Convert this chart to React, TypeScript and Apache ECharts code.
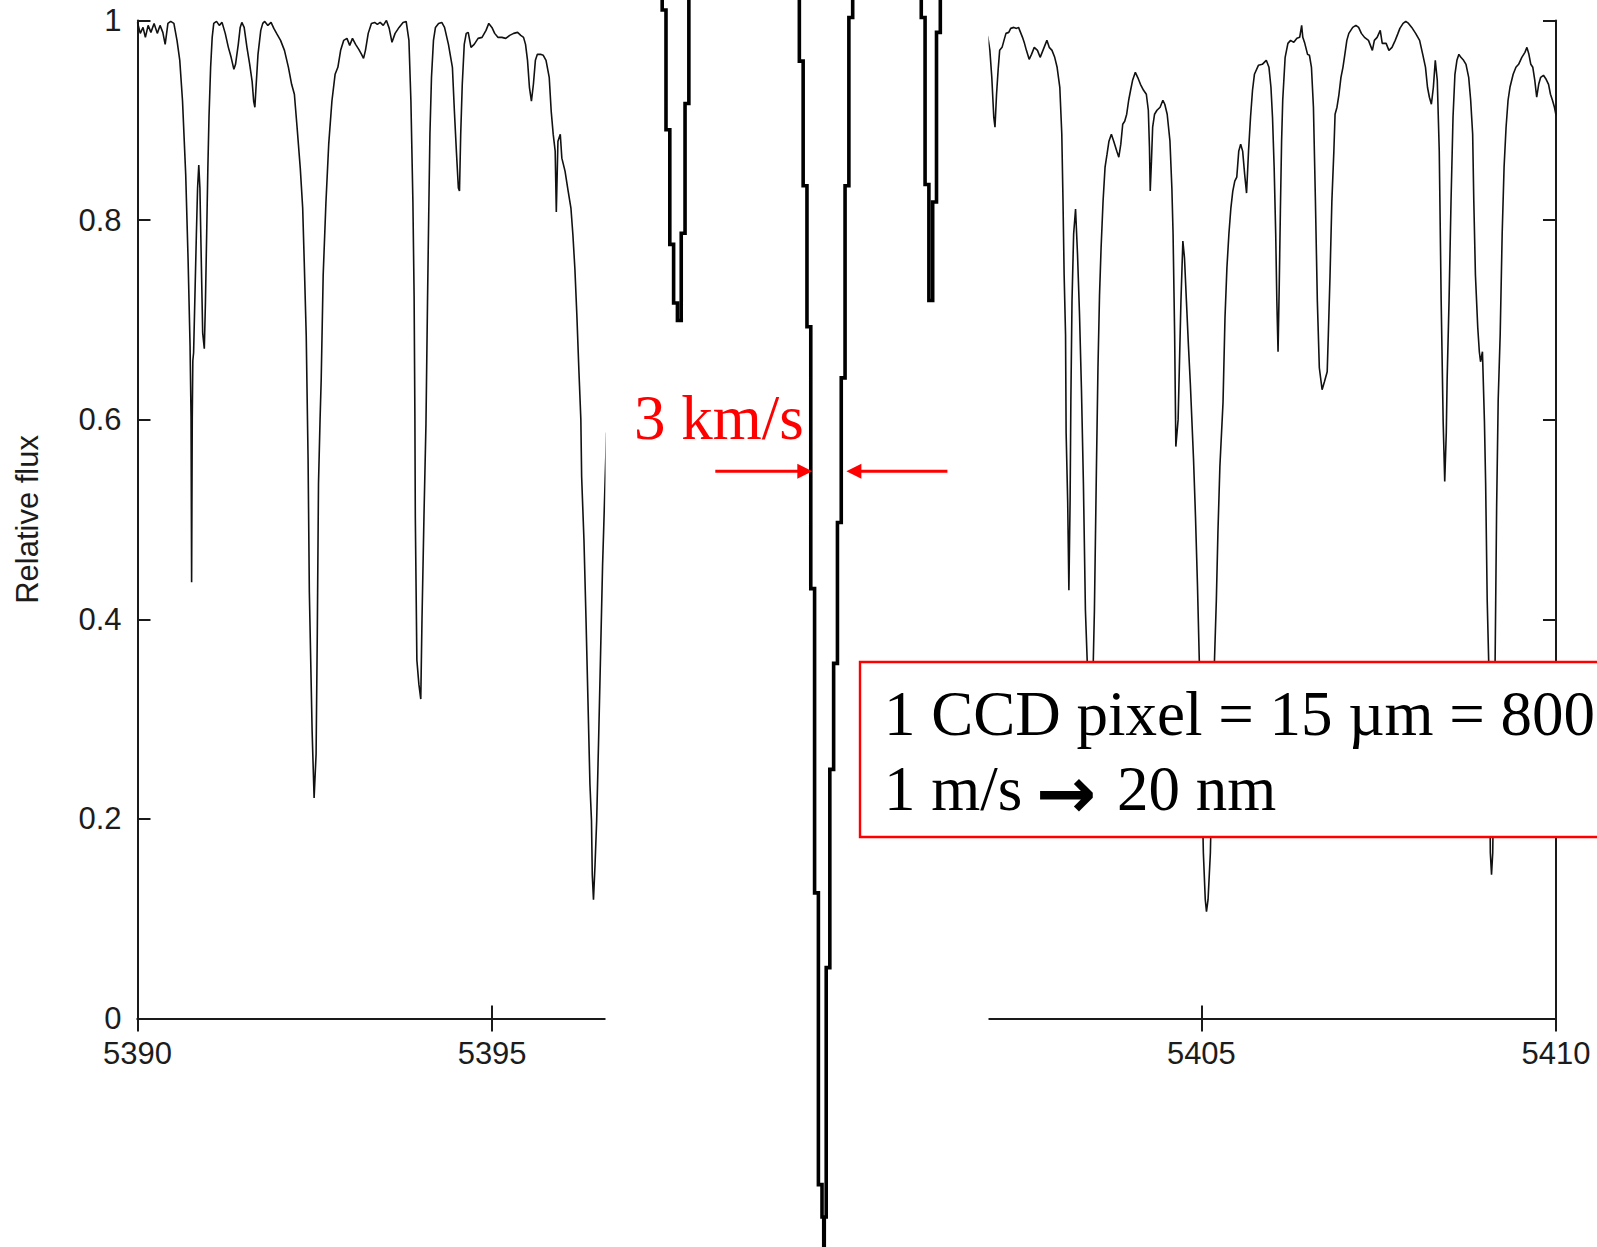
import React, { useEffect, useRef } from "react";
import * as echarts from "echarts";

// Solar spectrum, wavelength in Å against relative flux (5390 – 5396.6 Å)
const spectrumLeft: [number, number][] = [
  [5390.0, 0.998], [5390.039, 0.987], [5390.078, 0.993], [5390.111, 0.983], [5390.15, 0.995],
  [5390.189, 0.988], [5390.234, 0.997], [5390.279, 0.987], [5390.318, 0.995], [5390.357, 0.988],
  [5390.39, 0.976], [5390.429, 0.997], [5390.468, 0.999], [5390.513, 0.997], [5390.557, 0.98],
  [5390.596, 0.96], [5390.635, 0.919], [5390.68, 0.845], [5390.713, 0.761], [5390.741, 0.674],
  [5390.755, 0.603], [5390.763, 0.437], [5390.772, 0.6], [5390.78, 0.659], [5390.791, 0.667],
  [5390.813, 0.734], [5390.83, 0.785], [5390.847, 0.832], [5390.864, 0.855], [5390.88, 0.832],
  [5390.897, 0.768], [5390.919, 0.687], [5390.942, 0.671], [5390.958, 0.718], [5390.975, 0.785],
  [5390.992, 0.852], [5391.008, 0.903], [5391.031, 0.953], [5391.053, 0.983], [5391.075, 0.997],
  [5391.114, 0.999], [5391.153, 0.995], [5391.192, 0.998], [5391.237, 0.987], [5391.281, 0.973],
  [5391.32, 0.963], [5391.359, 0.951], [5391.382, 0.956], [5391.421, 0.976], [5391.448, 0.993],
  [5391.471, 0.998], [5391.504, 0.993], [5391.543, 0.973], [5391.582, 0.956], [5391.616, 0.939],
  [5391.638, 0.919], [5391.655, 0.913], [5391.671, 0.933], [5391.699, 0.966], [5391.738, 0.99],
  [5391.766, 0.997], [5391.794, 0.999], [5391.838, 0.995], [5391.883, 0.998], [5391.922, 0.992],
  [5391.961, 0.987], [5392.017, 0.98], [5392.072, 0.97], [5392.128, 0.953], [5392.173, 0.936],
  [5392.212, 0.926], [5392.251, 0.892], [5392.295, 0.852], [5392.329, 0.812], [5392.351, 0.758],
  [5392.379, 0.684], [5392.396, 0.603], [5392.405, 0.561], [5392.423, 0.427], [5392.462, 0.288],
  [5392.49, 0.221], [5392.518, 0.265], [5392.535, 0.386], [5392.552, 0.536], [5392.574, 0.6],
  [5392.59, 0.64], [5392.618, 0.745], [5392.657, 0.818], [5392.696, 0.876], [5392.741, 0.919],
  [5392.786, 0.946], [5392.825, 0.953], [5392.864, 0.97], [5392.908, 0.98], [5392.953, 0.982],
  [5392.992, 0.975], [5393.031, 0.982], [5393.075, 0.976], [5393.12, 0.971], [5393.159, 0.966],
  [5393.187, 0.962], [5393.214, 0.97], [5393.253, 0.987], [5393.298, 0.997], [5393.343, 0.998],
  [5393.382, 0.996], [5393.421, 0.998], [5393.465, 0.995], [5393.51, 1.0], [5393.549, 0.992],
  [5393.588, 0.978], [5393.632, 0.987], [5393.688, 0.993], [5393.744, 0.998], [5393.788, 0.999],
  [5393.827, 0.98], [5393.855, 0.919], [5393.883, 0.818], [5393.9, 0.724], [5393.911, 0.603],
  [5393.917, 0.503], [5393.939, 0.359], [5393.967, 0.335], [5393.994, 0.32], [5394.011, 0.399],
  [5394.039, 0.503], [5394.067, 0.595], [5394.089, 0.718], [5394.106, 0.805], [5394.123, 0.886],
  [5394.145, 0.943], [5394.173, 0.98], [5394.201, 0.993], [5394.245, 0.997], [5394.29, 0.998],
  [5394.329, 0.993], [5394.384, 0.976], [5394.44, 0.953], [5394.468, 0.909], [5394.496, 0.869],
  [5394.524, 0.832], [5394.54, 0.829], [5394.557, 0.886], [5394.579, 0.936], [5394.607, 0.976],
  [5394.635, 0.987], [5394.663, 0.988], [5394.702, 0.973], [5394.747, 0.976], [5394.802, 0.982],
  [5394.858, 0.983], [5394.914, 0.99], [5394.953, 0.997], [5394.997, 0.993], [5395.036, 0.987],
  [5395.081, 0.983], [5395.137, 0.983], [5395.192, 0.982], [5395.248, 0.985], [5395.304, 0.987],
  [5395.359, 0.988], [5395.404, 0.985], [5395.443, 0.983], [5395.471, 0.976], [5395.499, 0.96],
  [5395.526, 0.933], [5395.554, 0.919], [5395.582, 0.936], [5395.61, 0.96], [5395.638, 0.966],
  [5395.682, 0.966], [5395.721, 0.965], [5395.76, 0.96], [5395.805, 0.943], [5395.833, 0.909],
  [5395.861, 0.886], [5395.889, 0.869], [5395.905, 0.808], [5395.928, 0.879], [5395.961, 0.886],
  [5395.983, 0.862], [5396.028, 0.849], [5396.072, 0.829], [5396.111, 0.812], [5396.139, 0.785],
  [5396.167, 0.751], [5396.195, 0.704], [5396.223, 0.65], [5396.251, 0.6], [5396.262, 0.543],
  [5396.295, 0.479], [5396.323, 0.402], [5396.351, 0.319], [5396.379, 0.235], [5396.401, 0.198],
  [5396.412, 0.144], [5396.429, 0.119], [5396.451, 0.154], [5396.474, 0.198], [5396.501, 0.278],
  [5396.529, 0.365], [5396.557, 0.453], [5396.574, 0.493], [5396.613, 0.587],
];

// Solar spectrum, 5402 – 5410 Å
const spectrumRight: [number, number][] = [
  [5401.95, 0.99], [5401.99, 0.983], [5402.018, 0.97], [5402.045, 0.943], [5402.073, 0.903],
  [5402.09, 0.893], [5402.112, 0.926], [5402.134, 0.95], [5402.156, 0.97], [5402.19, 0.973],
  [5402.217, 0.98], [5402.245, 0.987], [5402.284, 0.988], [5402.312, 0.992], [5402.356, 0.993],
  [5402.395, 0.992], [5402.422, 0.993], [5402.45, 0.988], [5402.478, 0.983], [5402.506, 0.977],
  [5402.533, 0.97], [5402.572, 0.961], [5402.605, 0.966], [5402.644, 0.973], [5402.689, 0.97],
  [5402.727, 0.963], [5402.755, 0.968], [5402.794, 0.975], [5402.822, 0.98], [5402.855, 0.973],
  [5402.894, 0.97], [5402.932, 0.963], [5402.966, 0.953], [5403.004, 0.933], [5403.032, 0.886],
  [5403.049, 0.819], [5403.065, 0.745], [5403.085, 0.685], [5403.093, 0.587], [5403.115, 0.518],
  [5403.132, 0.429], [5403.149, 0.518], [5403.16, 0.62], [5403.176, 0.719], [5403.199, 0.786],
  [5403.226, 0.811], [5403.254, 0.765], [5403.282, 0.705], [5403.309, 0.631], [5403.337, 0.535],
  [5403.365, 0.409], [5403.392, 0.355], [5403.43, 0.28], [5403.475, 0.355], [5403.492, 0.409],
  [5403.52, 0.55], [5403.542, 0.652], [5403.564, 0.725], [5403.586, 0.772], [5403.614, 0.819],
  [5403.642, 0.853], [5403.67, 0.866], [5403.697, 0.879], [5403.731, 0.886], [5403.764, 0.879],
  [5403.808, 0.869], [5403.836, 0.863], [5403.864, 0.876], [5403.891, 0.896], [5403.919, 0.899],
  [5403.947, 0.906], [5403.975, 0.92], [5404.002, 0.93], [5404.03, 0.94], [5404.069, 0.948],
  [5404.102, 0.943], [5404.141, 0.936], [5404.185, 0.93], [5404.224, 0.926], [5404.252, 0.91],
  [5404.268, 0.873], [5404.279, 0.829], [5404.296, 0.859], [5404.313, 0.893], [5404.34, 0.906],
  [5404.374, 0.91], [5404.418, 0.913], [5404.457, 0.92], [5404.484, 0.916], [5404.518, 0.906],
  [5404.557, 0.879], [5404.584, 0.832], [5404.601, 0.786], [5404.623, 0.685], [5404.64, 0.573],
  [5404.672, 0.6], [5404.712, 0.719], [5404.739, 0.779], [5404.762, 0.762], [5404.789, 0.719],
  [5404.817, 0.675], [5404.845, 0.635], [5404.889, 0.561], [5404.917, 0.503], [5404.945, 0.434],
  [5404.972, 0.355], [5405.028, 0.166], [5405.055, 0.119], [5405.072, 0.107], [5405.094, 0.119],
  [5405.127, 0.166], [5405.183, 0.355], [5405.211, 0.419], [5405.233, 0.486], [5405.261, 0.553],
  [5405.305, 0.617], [5405.333, 0.702], [5405.36, 0.752], [5405.388, 0.786], [5405.416, 0.812],
  [5405.443, 0.829], [5405.471, 0.839], [5405.499, 0.843], [5405.527, 0.869], [5405.554, 0.876],
  [5405.582, 0.869], [5405.61, 0.846], [5405.637, 0.827], [5405.665, 0.869], [5405.693, 0.903],
  [5405.721, 0.93], [5405.748, 0.946], [5405.804, 0.955], [5405.859, 0.956], [5405.915, 0.96],
  [5405.953, 0.953], [5405.981, 0.933], [5406.003, 0.903], [5406.026, 0.853], [5406.048, 0.786],
  [5406.064, 0.719], [5406.081, 0.668], [5406.098, 0.735], [5406.114, 0.809], [5406.131, 0.879],
  [5406.147, 0.92], [5406.181, 0.963], [5406.22, 0.977], [5406.258, 0.98], [5406.303, 0.978],
  [5406.347, 0.982], [5406.386, 0.983], [5406.414, 0.995], [5406.43, 0.983], [5406.458, 0.977],
  [5406.497, 0.966], [5406.524, 0.965], [5406.552, 0.953], [5406.58, 0.913], [5406.608, 0.819],
  [5406.635, 0.719], [5406.663, 0.652], [5406.702, 0.63], [5406.735, 0.638], [5406.774, 0.648],
  [5406.79, 0.685], [5406.813, 0.742], [5406.84, 0.819], [5406.868, 0.869], [5406.885, 0.906],
  [5406.912, 0.913], [5406.94, 0.926], [5406.968, 0.943], [5406.996, 0.953], [5407.023, 0.966],
  [5407.051, 0.98], [5407.079, 0.987], [5407.134, 0.993], [5407.178, 0.995], [5407.217, 0.993],
  [5407.256, 0.987], [5407.3, 0.983], [5407.356, 0.98], [5407.411, 0.97], [5407.439, 0.98],
  [5407.478, 0.983], [5407.522, 0.99], [5407.55, 0.977], [5407.605, 0.977], [5407.644, 0.97],
  [5407.688, 0.973], [5407.733, 0.98], [5407.772, 0.987], [5407.799, 0.992], [5407.844, 0.997],
  [5407.882, 0.999], [5407.921, 0.997], [5407.966, 0.993], [5408.021, 0.987], [5408.077, 0.98],
  [5408.121, 0.966], [5408.16, 0.953], [5408.188, 0.933], [5408.215, 0.923], [5408.243, 0.916],
  [5408.271, 0.933], [5408.298, 0.96], [5408.326, 0.94], [5408.354, 0.869], [5408.381, 0.719],
  [5408.409, 0.598], [5408.431, 0.538], [5408.453, 0.587], [5408.465, 0.64], [5408.492, 0.719],
  [5408.52, 0.819], [5408.548, 0.903], [5408.575, 0.946], [5408.603, 0.96], [5408.631, 0.966],
  [5408.659, 0.963], [5408.697, 0.96], [5408.731, 0.956], [5408.769, 0.943], [5408.797, 0.92],
  [5408.825, 0.886], [5408.841, 0.819], [5408.864, 0.745], [5408.897, 0.692], [5408.919, 0.668],
  [5408.936, 0.658], [5408.963, 0.668], [5408.991, 0.598], [5409.008, 0.536], [5409.03, 0.419],
  [5409.052, 0.355], [5409.074, 0.166], [5409.091, 0.144], [5409.108, 0.166], [5409.141, 0.355],
  [5409.163, 0.513], [5409.185, 0.62], [5409.213, 0.685], [5409.241, 0.786], [5409.268, 0.853],
  [5409.296, 0.893], [5409.324, 0.92], [5409.351, 0.933], [5409.396, 0.946], [5409.435, 0.953],
  [5409.473, 0.956], [5409.518, 0.963], [5409.562, 0.968], [5409.59, 0.973], [5409.618, 0.966],
  [5409.645, 0.956], [5409.673, 0.953], [5409.701, 0.94], [5409.728, 0.923], [5409.756, 0.936],
  [5409.784, 0.943], [5409.823, 0.945], [5409.861, 0.941], [5409.895, 0.936], [5409.922, 0.926],
  [5409.95, 0.92], [5409.978, 0.913], [5410.0, 0.905],
];

// Magnified view: CCD pixel index against relative flux of that pixel
const pixelLineA: [number, number][] = [
  [-2, 1.3], [-1, 0.992], [0, 0.896], [1, 0.804], [2, 0.757], [3, 0.743], [4, 0.813], [5, 0.917], [6, 1.3],
];
const pixelLineB: [number, number][] = [
  [34, 1.3], [35, 0.951], [36, 0.851], [37, 0.738], [38, 0.528], [39, 0.284], [40, 0.05],
  [40.9, 0.024], [41, -0.3], [41.1, 0.024],
  [42, 0.224], [43, 0.383], [44, 0.468], [45, 0.581], [46, 0.697], [47, 0.851], [48, 0.986], [49, 1.3],
];
const pixelLineC: [number, number][] = [
  [66, 1.3], [67, 0.986], [68, 0.852], [69, 0.759], [70, 0.838], [71, 0.974], [72, 1.3],
];

// Where the "3 km/s" line width is marked (pixel index of the two flanks, flux level)
const widthMarkPixels = [37.9, 46.85];
const widthMarkFlux = 0.622;

const W = 1597;
const H = 1247;

const axisColor = "#1a1a1a";
const tickFont = { fontFamily: "Liberation Sans", fontSize: 31, color: "#1c1c1c" };

export default function App() {
  const ref = useRef<HTMLDivElement>(null);

  useEffect(() => {
    if (!ref.current) return;
    const chart = echarts.init(ref.current, null, { renderer: "svg" });

    const mainAxisLine = { show: true, lineStyle: { color: axisColor, width: 2 } };
    const mainTick = { show: true, inside: true, length: 13, lineStyle: { color: axisColor, width: 2 } };

    chart.setOption({
      animation: false,
      backgroundColor: "#ffffff",
      grid: [
        { left: 137.5, top: 20.4, width: 1418.5, height: 998.1, outerBoundsMode: "none" },
        { left: 606.94, top: 0, width: 381, height: H, outerBoundsMode: "none" },
      ],
      xAxis: [
        {
          gridIndex: 0, type: "value", position: "bottom", min: 5390, max: 5410, interval: 5,
          axisLine: mainAxisLine, axisTick: mainTick, splitLine: { show: false },
          axisLabel: { ...tickFont, margin: 19, formatter: (v: number) => String(v) },
        },
        {
          gridIndex: 0, type: "value", position: "top", min: 5390, max: 5410, interval: 5,
          axisLine: mainAxisLine, axisTick: mainTick, splitLine: { show: false },
          axisLabel: { show: false },
        },
        { gridIndex: 1, type: "value", min: -16, max: 84, show: false },
      ],
      yAxis: [
        {
          gridIndex: 0, type: "value", position: "left", min: 0, max: 1, interval: 0.2,
          axisLine: mainAxisLine, axisTick: mainTick, splitLine: { show: false },
          axisLabel: { ...tickFont, margin: 16 },
          name: "Relative flux", nameLocation: "middle", nameRotate: 90, nameGap: 94.5,
          nameTextStyle: { fontFamily: "Liberation Sans", fontSize: 31, color: "#1c1c1c" },
        },
        {
          gridIndex: 0, type: "value", position: "right", min: 0, max: 1, interval: 0.2,
          axisLine: mainAxisLine, axisTick: mainTick, splitLine: { show: false },
          axisLabel: { show: false },
        },
        { gridIndex: 1, type: "value", min: 0, max: 1, show: false },
      ],
      series: [
        {
          type: "line", xAxisIndex: 0, yAxisIndex: 0, data: spectrumLeft, showSymbol: false,
          symbol: "none", clip: true, lineStyle: { color: "#111", width: 1.6 }, z: 2,
        },
        {
          type: "line", xAxisIndex: 0, yAxisIndex: 0, data: spectrumRight, showSymbol: false,
          symbol: "none", clip: true, lineStyle: { color: "#111", width: 1.6 }, z: 2,
        },
        ...[pixelLineA, pixelLineB, pixelLineC].map((d) => ({
          type: "line", xAxisIndex: 2, yAxisIndex: 2, data: d, step: "middle", showSymbol: false,
          symbol: "none", clip: true, z: 60,
          lineStyle: { color: "#000", width: 3.6, join: "miter", cap: "butt" },
        })),
      ],
    });

    const [lx, ly] = chart.convertToPixel({ gridIndex: 1 }, [widthMarkPixels[0], widthMarkFlux]) as number[];
    const [rx] = chart.convertToPixel({ gridIndex: 1 }, [widthMarkPixels[1], widthMarkFlux]) as number[];
    const red = "#ff0000";
    const head = 15;
    const half = 7.5;
    const serif = "Liberation Serif";

    chart.setOption({
      graphic: [
        // blank strip behind the magnified pixels
        { id: "strip", type: "rect", z: 50, silent: true, shape: { x: 605.5, y: 0, width: 383, height: H }, style: { fill: "#ffffff" } },
        // note box
        {
          id: "noteBox", type: "rect", z: 70, silent: true,
          shape: { x: 860, y: 662, width: 760, height: 175 },
          style: { fill: "#ffffff", stroke: red, lineWidth: 2.4 },
        },
        {
          id: "noteLine1", type: "text", z: 80, x: 884, y: 714,
          style: { text: "1 CCD pixel = 15 µm = 800", fontFamily: serif, fontSize: 63, fill: "#000", align: "left", verticalAlign: "middle" },
        },
        {
          id: "noteLine2a", type: "text", z: 80, x: 884, y: 789,
          style: { text: "1 m/s", fontFamily: serif, fontSize: 63, fill: "#000", align: "left", verticalAlign: "middle" },
        },
        {
          id: "noteLine2b", type: "text", z: 80, x: 1036, y: 793,
          style: { text: "→", fontFamily: "DejaVu Sans", fontWeight: "bold", fontSize: 72, fill: "#000", align: "left", verticalAlign: "middle" },
        },
        {
          id: "noteLine2c", type: "text", z: 80, x: 1117, y: 789,
          style: { text: "20 nm", fontFamily: serif, fontSize: 63, fill: "#000", align: "left", verticalAlign: "middle" },
        },
        // line width marker
        {
          id: "speedLabel", type: "text", z: 80, x: 634, y: 418,
          style: { text: "3 km/s", fontFamily: serif, fontSize: 63, fill: red, align: "left", verticalAlign: "middle" },
        },
        {
          id: "arrowLShaft", type: "line", z: 80, silent: true,
          shape: { x1: lx - 97, y1: ly, x2: lx - head + 1, y2: ly }, style: { stroke: red, lineWidth: 3 },
        },
        {
          id: "arrowLHead", type: "polygon", z: 80, silent: true,
          shape: { points: [[lx - head, ly - half], [lx, ly], [lx - head, ly + half]] }, style: { fill: red },
        },
        {
          id: "arrowRShaft", type: "line", z: 80, silent: true,
          shape: { x1: rx + 101, y1: ly, x2: rx + head - 1, y2: ly }, style: { stroke: red, lineWidth: 3 },
        },
        {
          id: "arrowRHead", type: "polygon", z: 80, silent: true,
          shape: { points: [[rx + head, ly - half], [rx, ly], [rx + head, ly + half]] }, style: { fill: red },
        },
      ],
    });

    return () => chart.dispose();
  }, []);

  return (
    <div
      ref={ref}
      style={{ position: "fixed", left: 0, top: 0, width: W, height: H, background: "#fff", overflow: "hidden" }}
    />
  );
}
